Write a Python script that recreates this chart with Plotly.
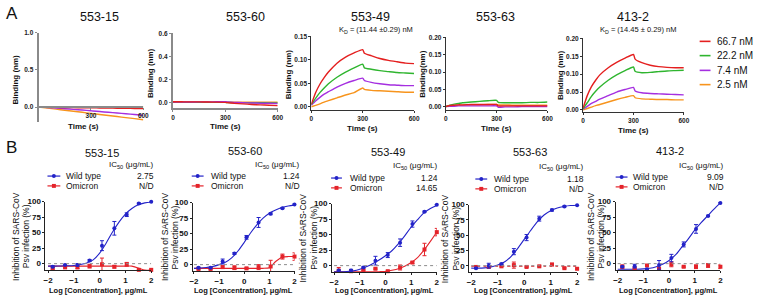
import plotly.graph_objects as go

W, H = 760, 299
FONT = "Liberation Sans, Arial, sans-serif"


def px(x):
    return x / W


def py(y):
    return 1 - y / H


# ---------------- DATA: panel A (BLI sensorgrams) ----------------
TIME = [0, 25, 50, 75, 100, 150, 200, 250, 300, 310, 350, 400, 450, 500, 550, 600]
CONC_LABELS = ["66.7 nM", "22.2 nM", "7.4 nM", "2.5 nM"]
A_TITLES = ["553-15", "553-60", "553-49", "553-63", "413-2"]

# 553-15
a1_red = [0, -0.001, -0.002, -0.003, -0.004, -0.006, -0.008, -0.009, -0.010, -0.010, -0.012, -0.014, -0.015, -0.017, -0.018, -0.020]
a1_green = [0, 0, 0, 0, 0, 0, 0.001, 0.001, 0.001, 0.001, 0.001, 0.002, 0.002, 0.002, 0.002, 0.002]
a1_purple = [0, -0.003, -0.006, -0.009, -0.013, -0.022, -0.031, -0.040, -0.050, -0.052, -0.060, -0.070, -0.080, -0.090, -0.100, -0.110]
a1_orange = [0, -0.007, -0.014, -0.021, -0.028, -0.042, -0.056, -0.070, -0.085, -0.088, -0.099, -0.113, -0.127, -0.141, -0.155, -0.170]
# 553-60
a2_red = [0.005, 0.005, 0.005, 0.004, 0.004, 0.004, 0.003, 0.002, 0.0, -0.002, -0.008, -0.013, -0.018, -0.022, -0.025, -0.028]
a2_green = [0, 0, 0, 0, 0, 0, 0, 0, 0, -0.001, -0.002, -0.002, -0.003, -0.003, -0.004, -0.004]
a2_purple = [0.002, 0.002, 0.003, 0.003, 0.003, 0.004, 0.004, 0.005, 0.005, 0.004, 0.0, -0.003, -0.005, -0.007, -0.008, -0.010]
a2_orange = [0.001, 0.001, 0.001, 0.001, 0.001, 0.001, 0.001, 0.001, 0.001, 0.001, 0.001, 0.001, 0.001, 0.001, 0.001, 0.001]
# 553-49
a3_red = [0.005, 0.030, 0.048, 0.062, 0.074, 0.093, 0.106, 0.115, 0.122, 0.114, 0.109, 0.103, 0.099, 0.096, 0.093, 0.092]
a3_green = [0.005, 0.018, 0.030, 0.040, 0.049, 0.063, 0.074, 0.083, 0.091, 0.083, 0.080, 0.077, 0.075, 0.073, 0.072, 0.071]
a3_purple = [0.003, 0.012, 0.020, 0.027, 0.032, 0.042, 0.050, 0.056, 0.061, 0.056, 0.052, 0.049, 0.047, 0.046, 0.045, 0.045]
a3_orange = [0.0, 0.003, 0.006, 0.010, 0.013, 0.019, 0.025, 0.030, 0.040, 0.037, 0.035, 0.034, 0.033, 0.032, 0.031, 0.031]
# 553-63
a4_red = [0.0, 0.003, 0.004, 0.005, 0.005, 0.006, 0.006, 0.006, 0.006, 0.002, 0.002, 0.002, 0.002, 0.002, 0.002, 0.002]
a4_green = [0.0, 0.004, 0.007, 0.009, 0.011, 0.013, 0.015, 0.017, 0.018, 0.012, 0.011, 0.011, 0.011, 0.012, 0.012, 0.013]
a4_purple = [0.0, 0.001, 0.001, 0.002, 0.002, 0.002, 0.002, 0.002, 0.002, -0.002, -0.001, -0.001, 0.0, 0.0, 0.0, 0.0]
a4_orange = [0.0, 0.002, 0.003, 0.004, 0.004, 0.005, 0.005, 0.006, 0.006, 0.005, 0.005, 0.004, 0.004, 0.004, 0.004, 0.004]
# 413-2
a5_red = [0.005, 0.040, 0.065, 0.083, 0.098, 0.118, 0.133, 0.145, 0.155, 0.142, 0.132, 0.125, 0.121, 0.119, 0.118, 0.118]
a5_green = [0.003, 0.020, 0.038, 0.052, 0.064, 0.083, 0.098, 0.110, 0.120, 0.108, 0.104, 0.105, 0.107, 0.109, 0.110, 0.111]
a5_purple = [0.002, 0.010, 0.018, 0.024, 0.030, 0.040, 0.050, 0.057, 0.063, 0.053, 0.048, 0.046, 0.045, 0.044, 0.043, 0.042]
a5_orange = [0.0, 0.004, 0.008, 0.012, 0.015, 0.022, 0.029, 0.035, 0.040, 0.034, 0.031, 0.030, 0.029, 0.029, 0.028, 0.028]

A_SERIES = [
    [a1_red, a1_green, a1_purple, a1_orange],
    [a2_red, a2_green, a2_purple, a2_orange],
    [a3_red, a3_green, a3_purple, a3_orange],
    [a4_red, a4_green, a4_purple, a4_orange],
    [a5_red, a5_green, a5_purple, a5_orange],
]
KD_TEXT = [None, None, "K<sub>D</sub> = (11.44 ±0.29) nM", None, "K<sub>D</sub> = (14.45 ± 0.29) nM"]

# ---------------- DATA: panel B (neutralization) ----------------
B_TITLES = ["553-15", "553-60", "553-49", "553-63", "413-2"]
IC50_WT = ["2.75", "1.24", "1.24", "1.18", "9.09"]
IC50_OM = ["N/D", "N/D", "14.65", "N/D", "N/D"]
LOGC = [-1.82, -1.34, -0.86, -0.39, 0.09, 0.57, 1.05, 1.52, 2.0]
FIT_X = [-2, -1.75, -1.5, -1.25, -1, -0.75, -0.5, -0.25, 0, 0.25, 0.5, 0.75, 1, 1.25, 1.5, 1.75, 2]

b1_wt = [-5, -2, -2, 5, 29, 57, 79, 97, 100]
b1_wt_err = [1.5, 1, 2, 1.5, 8, 11, 3, 1, 0.5]
b1_om = [-7, -6, -6, -4, -1, -5, -1, -10, -10]
b1_om_err = [2, 1, 2, 3, 10, 2, 3, 1, 1]
b1_wt_fit = [-4, -4, -3.8, -3.5, -3, -1.5, 1, 6, 17, 33, 51, 67, 80, 89, 95, 98, 99.5]
b1_om_fit = [-4, -4, -4, -4, -4, -4, -4, -4, -4, -4, -4, -4, -4, -4, -7, -10.5, -10.5]

b2_wt = [-5, -5, 5, 18, 44, 68, 82, 91, 97]
b2_wt_err = [1, 1, 4, 1.5, 3, 8, 1.5, 1, 1]
b2_om = [-7, -7, -4, -5, -6, -4, -3, 13, 13]
b2_om_err = [1, 1, 2, 3, 1, 4, 10, 4, 6]
b2_wt_fit = [-6, -5.5, -4.5, -3, 0, 4, 11, 22, 36, 51, 64, 75, 83, 88, 92, 94.5, 96]
b2_om_fit = [-6, -6, -6, -6, -6, -6, -6, -6, -6, -6, -6, -6, -5, 5, 12, 13, 13]

b3_wt = [-8, -8, -3, 8, 17, 37, 67, 87, 98]
b3_wt_err = [1, 2, 1, 7, 4, 6, 5, 1, 0.5]
b3_om = [-8, -9, -7, -5, -9, -3, 5, 26, 54]
b3_om_err = [5, 1, 1, 1, 1, 4, 1.5, 10, 6]
b3_wt_fit = [-10, -10, -9.5, -8.5, -6, -2, 3, 9, 16, 24, 35, 48, 62, 74, 85, 92, 97]
b3_om_fit = [-10, -10, -10, -10, -10, -10, -10, -9.8, -9.5, -7.5, -5, -1, 5, 13, 25, 39, 54]

b4_wt = [-4, 0, 3, 23, 46, 77, 91, 97, 99]
b4_wt_err = [1, 4, 1, 5, 5, 4, 1.5, 1, 0.5]
b4_om = [-2, -2, -1, 1, -2, -1, 2, -4, -5]
b4_om_err = [2, 1, 1, 5, 1, 1, 2, 1, 1]
b4_wt_fit = [-4, -4, -3.5, -2, 1, 6, 15, 28, 43, 58, 72, 83, 90, 94.5, 97, 98.5, 99]
b4_om_fit = [-1, -1, -1, -1, -1, -1, -1, -1, -1, -1, -1, -1, -1, -1, -1, -1, -1]

b5_wt = [-5, -4, -9, -2, 9, 31, 56, 77, 98]
b5_wt_err = [1, 3, 1, 7, 6, 4, 7, 1, 0.5]
b5_om = [-5, -8, -3, -8, -1, -5, -5, -3, -5]
b5_om_err = [3, 1, 1, 1, 4, 1, 3, 3, 3]
b5_wt_fit = [-9, -9, -9, -9, -8.5, -7.5, -5, -1, 5, 14, 27, 40, 54, 66, 77, 88, 98]
b5_om_fit = None

B_DATA = [
    (b1_wt, b1_wt_err, b1_om, b1_om_err, b1_wt_fit, b1_om_fit),
    (b2_wt, b2_wt_err, b2_om, b2_om_err, b2_wt_fit, b2_om_fit),
    (b3_wt, b3_wt_err, b3_om, b3_om_err, b3_wt_fit, b3_om_fit),
    (b4_wt, b4_wt_err, b4_om, b4_om_err, b4_wt_fit, b4_om_fit),
    (b5_wt, b5_wt_err, b5_om, b5_om_err, b5_wt_fit, b5_om_fit),
]

# ---------------- STYLE ----------------
KIN_COLORS = ["#e41f1f", "#2fb52f", "#a52fe0", "#f7941d"]
BLUE = "#2323c8"
RED = "#e4232a"

A_LAYOUT = [
    dict(x0=36, x1=142, ytop=29, ybot=120, yr=[-0.2, 1.0], yt=[0, 0.5, 1.0], ytt=["0.0", "0.5", "1.0"],
         xt=[300, 600], xpos=105, lc="#8a8a8a", lw=2, tcx=98, ylx=13, ylc=77, tty=125),
    dict(x0=172, x1=278, ytop=30, ybot=106, yr=[-0.051, 0.6], yt=[0, 0.2, 0.4, 0.6], ytt=["0.0", "0.2", "0.4", "0.6"],
         xt=[0, 300, 600], xpos=None, lc="#8a8a8a", lw=2, tcx=245, ylx=150, ylc=70, tty=125),
    dict(x0=312, x1=416, ytop=33, ybot=108, yr=[-0.0074, 0.15], yt=[0, 0.05, 0.10, 0.15], ytt=["0.00", "0.05", "0.10", "0.15"],
         xt=[0, 300, 600], xpos=None, lc="#333333", lw=1, tcx=372, ylx=289, ylc=72, tty=127),
    dict(x0=448, x1=551, ytop=34, ybot=108, yr=[-0.0105, 0.2], yt=[0, 0.05, 0.10, 0.15, 0.20], ytt=["0.00", "0.05", "0.10", "0.15", "0.20"],
         xt=[0, 300, 600], xpos=None, lc="#333333", lw=1, tcx=498, ylx=425, ylc=71, tty=127),
    dict(x0=587, x1=689, ytop=35, ybot=110, yr=[-0.0063, 0.2], yt=[0, 0.05, 0.10, 0.15, 0.20], ytt=["0.00", "0.05", "0.10", "0.15", "0.20"],
         xt=[0, 300, 600], xpos=None, lc="#333333", lw=1, tcx=638, ylx=564, ylc=72, tty=129),
]
KD_X = [None, None, 377, None, 643]

B_LAYOUT = [
    dict(x0=43, x1=150, xr=[-2.1, 2.0], ytop=201, ybot=271, tcx=100, tcy=151.5, hr=155, hy=164, r1=175, r2=185,
         lg0=45, lg1=58, tx=62, yl1=13, yl2=23.5),
    dict(x0=192, x1=295, xr=[-2.05, 2.0], ytop=202, ybot=272, tcx=245, tcy=150, hr=303, hy=164, r1=175, r2=185,
         lg0=191, lg1=203, tx=208, yl1=164, yl2=174.5),
    dict(x0=333, x1=439, xr=[-2.08, 2.0], ytop=203, ybot=273, tcx=390, tcy=151, hr=442, hy=165, r1=177, r2=187,
         lg0=332, lg1=343, tx=349, yl1=304, yl2=314.5),
    dict(x0=472, x1=581, xr=[-2.07, 2.0], ytop=204, ybot=273, tcx=533, tcy=151, hr=590, hy=166, r1=178, r2=188,
         lg0=478, lg1=490, tx=495, yl1=447, yl2=457.5),
    dict(x0=620, x1=726, xr=[-2.08, 2.0], ytop=201, ybot=271, tcx=675, tcy=150, hr=732, hy=165, r1=176, r2=186,
         lg0=620, lg1=632, tx=636, yl1=595, yl2=605.5),
]


def names(k):
    return ("x" if k == 1 else f"x{k}"), ("y" if k == 1 else f"y{k}")


fig = go.Figure()
layout = dict(
    width=W, height=H, margin=dict(l=0, r=0, t=0, b=0),
    paper_bgcolor="white", plot_bgcolor="rgba(0,0,0,0)", showlegend=False,
    font=dict(family=FONT, color="#111111"),
)
annotations = []
shapes = []


def ann(text, x, y, size, xanchor="center", angle=0, bold=False, color="#111111"):
    annotations.append(dict(
        text=text, x=px(x), y=py(y), xref="paper", yref="paper", showarrow=False,
        xanchor=xanchor, yanchor="middle", textangle=angle,
        font=dict(family=FONT, size=size, color=color, weight="bold" if bold else "normal"),
    ))


# ---------------- TOP ROW ----------------
for i in range(5):
    k = i + 1
    L = A_LAYOUT[i]
    xn, yn = names(k)
    draw_order = [3, 2, 1, 0] if i != 1 else [3, 1, 2, 0]
    for j in draw_order:
        fig.add_trace(go.Scatter(
            x=TIME, y=A_SERIES[i][j], mode="lines", xaxis=xn, yaxis=yn,
            line=dict(color=KIN_COLORS[j], width=1.4, shape="spline", smoothing=0.5),
            hoverinfo="skip",
        ))
    xa = dict(domain=[px(L["x0"]), px(L["x1"])], range=[0, 600], tickvals=L["xt"],
              ticks="outside", ticklen=2, tickwidth=1, tickcolor=L["lc"],
              showline=True, linecolor=L["lc"], linewidth=L["lw"], showgrid=False, zeroline=False,
              tickfont=dict(family=FONT, size=6.5, weight="bold", color="#222"), fixedrange=True)
    if L["xpos"] is not None:
        xa.update(anchor="free", position=py(L["xpos"]))
    else:
        xa.update(anchor=yn)
    ya = dict(domain=[py(L["ybot"]), py(L["ytop"])], range=L["yr"], tickvals=L["yt"], ticktext=L["ytt"],
              ticks="outside", ticklen=2, tickwidth=1, tickcolor=L["lc"], anchor=xn,
              showline=True, linecolor=L["lc"], linewidth=L["lw"], showgrid=False, zeroline=False,
              tickfont=dict(family=FONT, size=6.5, weight="bold", color="#222"), fixedrange=True)
    layout["xaxis" if k == 1 else f"xaxis{k}"] = xa
    layout["yaxis" if k == 1 else f"yaxis{k}"] = ya
    ann(A_TITLES[i], L["tcx"], 13, 12.5)
    ann("Time (s)", (L["x0"] + L["x1"]) / 2 - (8 if i == 0 else 0), L["tty"], 8, bold=True)
    ann("Binding" + ("(nm)" if i == 3 else " (nm)"), L["ylx"], L["ylc"], 8, angle=-90, bold=True)
    if KD_TEXT[i]:
        ann(KD_TEXT[i], KD_X[i], 26, 7.5)

LEG_Y = [38, 52.5, 67.5, 82]
for j in range(4):
    shapes.append(dict(type="line", xref="paper", yref="paper", x0=px(705), x1=px(716),
                       y0=py(LEG_Y[j]), y1=py(LEG_Y[j]), line=dict(color=KIN_COLORS[j], width=1.6)))
    ann(CONC_LABELS[j], 721, LEG_Y[j], 10, xanchor="left")

ann("A", 9, 10, 17)
ann("B", 9, 146, 17)

# ---------------- BOTTOM ROW ----------------
for i in range(5):
    k = i + 6
    L = B_LAYOUT[i]
    xn, yn = names(k)
    wt, wt_err, om, om_err, wt_fit, om_fit = B_DATA[i]
    shapes.append(dict(type="line", xref=xn, yref=yn, x0=-2, x1=2, y0=0, y1=0,
                       line=dict(color="#8c8c8c", width=1, dash="dot")))
    if om_fit is not None:
        fig.add_trace(go.Scatter(
            x=FIT_X, y=om_fit, mode="lines", xaxis=xn, yaxis=yn, hoverinfo="skip",
            line=dict(color=RED, width=1.1, shape="spline", smoothing=0.6,
                      dash="dot" if i == 3 else "solid"), cliponaxis=False))
    fig.add_trace(go.Scatter(
        x=FIT_X, y=wt_fit, mode="lines", xaxis=xn, yaxis=yn, hoverinfo="skip",
        line=dict(color=BLUE, width=1.1, shape="spline", smoothing=0.8), cliponaxis=False))
    fig.add_trace(go.Scatter(
        x=LOGC, y=om, mode="markers", xaxis=xn, yaxis=yn, hoverinfo="skip", cliponaxis=False,
        marker=dict(symbol="square", size=4, color=RED),
        error_y=dict(type="data", array=om_err, visible=True, color=RED, thickness=1, width=2)))
    fig.add_trace(go.Scatter(
        x=LOGC, y=wt, mode="markers", xaxis=xn, yaxis=yn, hoverinfo="skip", cliponaxis=False,
        marker=dict(symbol="circle", size=4, color=BLUE),
        error_y=dict(type="data", array=wt_err, visible=True, color=BLUE, thickness=1, width=2)))
    xa = dict(domain=[px(L["x0"]), px(L["x1"])], range=L["xr"], tickvals=[-2, -1, 0, 1, 2], anchor=yn,
              ticks="outside", ticklen=2, tickwidth=1, tickcolor="#222",
              showline=True, linecolor="#222", linewidth=1, showgrid=False, zeroline=False,
              tickfont=dict(family=FONT, size=8, weight="bold", color="#111"), fixedrange=True)
    ya = dict(domain=[py(L["ybot"]), py(L["ytop"])], range=[-11, 100], tickvals=[0, 25, 50, 75, 100], anchor=xn,
              ticks="outside", ticklen=2, tickwidth=1, tickcolor="#222",
              showline=True, linecolor="#222", linewidth=1, showgrid=False, zeroline=False,
              tickfont=dict(family=FONT, size=8, weight="bold", color="#111"), fixedrange=True)
    layout[f"xaxis{k}"] = xa
    layout[f"yaxis{k}"] = ya
    ann(B_TITLES[i], L["tcx"], L["tcy"], 11)
    ann("IC<sub>50</sub> (μg/mL)", L["hr"], L["hy"], 8, xanchor="right")
    for (row_y, col, sym, label, val) in [(L["r1"], BLUE, "circle", "Wild type", IC50_WT[i]),
                                          (L["r2"], RED, "square", "Omicron", IC50_OM[i])]:
        shapes.append(dict(type="line", xref="paper", yref="paper", x0=px(L["lg0"]), x1=px(L["lg1"]),
                           y0=py(row_y), y1=py(row_y), line=dict(color=col, width=1.2)))
        cx = (L["lg0"] + L["lg1"]) / 2
        shapes.append(dict(type="circle" if sym == "circle" else "rect", xref="paper", yref="paper",
                           x0=px(cx - 2), x1=px(cx + 2), y0=py(row_y + 2), y1=py(row_y - 2),
                           fillcolor=col, line=dict(color=col, width=0)))
        ann(label, L["tx"], row_y, 8.5, xanchor="left")
        ann(val, L["hr"], row_y, 8.5, xanchor="right")
    ann("Log [Concentration], μg/mL", (L["x0"] + L["x1"]) / 2, 291.5, 7.5, bold=True)
    ycen = (L["ytop"] + L["ybot"]) / 2
    ann("Inhibition of SARS-CoV", L["yl1"], ycen, 8.5, angle=-90)
    ann("Psv infection (%)", L["yl2"], ycen, 8.5, angle=-90)

layout["annotations"] = annotations
layout["shapes"] = shapes
fig.update_layout(**layout)
fig.write_html("out.html", config={"displayModeBar": False},
               post_script="document.body.style.margin='0';document.body.style.overflow='hidden';")
